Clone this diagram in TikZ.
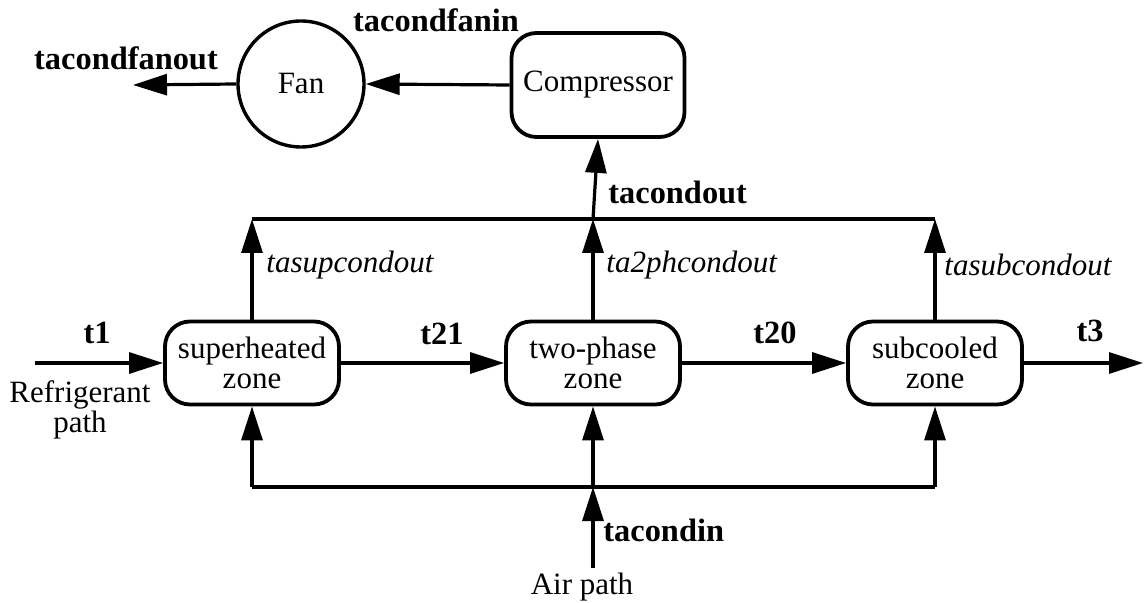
\documentclass[tikz,border=0pt]{standalone}
\usepackage{fontspec}
\setmainfont{Liberation Serif}
\newfontfamily\tms{Liberation Serif}
\usetikzlibrary{arrows.meta}
\begin{document}
\begin{tikzpicture}[x=0.5pt,y=-0.5pt,
  every node/.style={font=\tms\fontsize{15.5}{15}\selectfont},
  zone/.style={draw,line width=1.9pt,rounded corners=12.5pt,minimum width=87pt,minimum height=41.5pt,inner sep=1pt,align=center},
  fanc/.style={draw,circle,line width=1.7pt,minimum size=63pt,inner sep=0pt},
  conn/.style={line width=1.6pt},
  arr/.style={conn,-{Triangle[length=17pt,width=10.5pt]}},
  blab/.style={font=\tms\fontsize{16.2}{15}\selectfont\bfseries,inner sep=0pt},
  ilab/.style={font=\tms\fontsize{15.5}{15}\selectfont\itshape,inner sep=0pt},
  plab/.style={inner sep=0pt,align=center}]
\useasboundingbox (0,0) rectangle (1144,603);
% nodes
\node[fanc] (fan) at (301,84) {Fan};
\node[zone,minimum width=86.5pt,minimum height=52pt] (comp) at (598,85) {Compressor};
\node[zone] (sh) at (252,363) {superheated\\zone};
\node[zone] (tp) at (593,363) {two-phase\\zone};
\node[zone] (sc) at (935,363) {subcooled\\zone};
% coordinates
\coordinate (fout) at (133,85);
\coordinate (rin) at (35,363);
\coordinate (rout) at (1143,363);
\coordinate (tl) at (252,219);
\coordinate (tm) at (593,219);
\coordinate (tr) at (935,219);
\coordinate (bl) at (252,487);
\coordinate (bm) at (593,487);
\coordinate (br) at (935,487);
\coordinate (ain) at (593,568);
% connectors
\draw[arr] (comp.west) -- (fan.east);
\draw[arr] (fan.west) -- (fout);
\draw[arr] (rin) -- (sh.west);
\draw[arr] (sh.east) -- (tp.west);
\draw[arr] (tp.east) -- (sc.west);
\draw[arr] (sc.east) -- (rout);
\draw[arr] (sh.north) -- (tl);
\draw[arr] (tp.north) -- (tm);
\draw[arr] (sc.north) -- (tr);
\draw[conn] (tl) -- (tr);
\draw[arr] (tm) -- (comp.south);
\draw[conn] (bl) -- (br);
\draw[arr] (bl) -- (sh.south);
\draw[arr] (bm) -- (tp.south);
\draw[arr] (br) -- (sc.south);
\draw[arr] (ain) -- (bm);
% labels
\node[blab] (l1) at (126,58) {tacondfanout};
\node[blab] (l2) at (436,20) {tacondfanin};
\node[blab,anchor=west] (l3) at (608,192) {tacondout};
\node[ilab,anchor=west] (l4) at (266,265) {tasupcondout};
\node[ilab,anchor=west] (l5) at (606,265) {ta2phcondout};
\node[ilab,anchor=west] (l6) at (944,265) {tasubcondout};
\node[blab] (l7) at (97,333) {t1};
\node[blab] (l8) at (442,334) {t21};
\node[blab] (l9) at (775,333) {t20};
\node[blab] (l10) at (1090,331) {t3};
\node[blab,anchor=west] (l11) at (603,530) {tacondin};
\node[plab] (l12) at (80,410) {Refrigerant\\path};
\node[plab] (l13) at (582,587) {Air path};
\end{tikzpicture}
\end{document}
